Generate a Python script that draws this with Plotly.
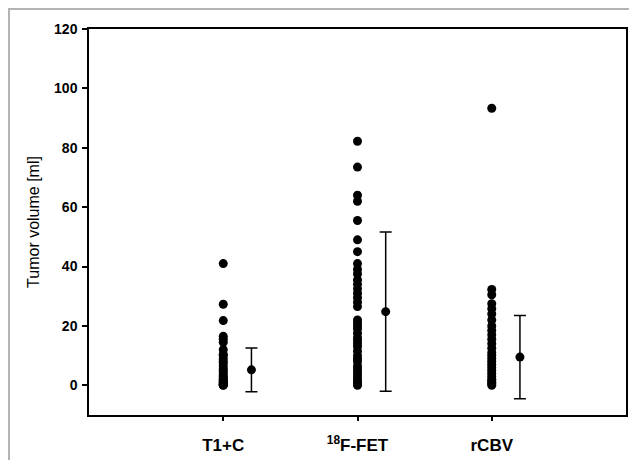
import plotly.graph_objects as go

categories = ["T1+C", "<sup>18</sup>F-FET", "rCBV"]
cat_pos = [1, 2, 3]

t1c_vals = [41.0, 27.3, 21.8, 16.5, 15.5, 14.5, 12.0, 10.5, 10.0, 9.0, 8.0, 7.5,
            6.5, 5.5, 5.0, 4.2, 3.5, 3.0, 2.5, 2.0, 1.8, 1.5, 1.2, 1.0, 0.8,
            0.5, 0.3, 0.2, 0.1, 0.0]
fet_vals = [82.2, 73.5, 64.0, 62.0, 55.5, 49.0, 45.0, 41.0, 39.0, 37.5, 35.5,
            34.0, 32.5, 31.0, 29.5, 28.0, 26.5, 22.0, 21.0, 20.0, 19.0, 17.5,
            16.0, 15.0, 14.0, 13.0, 11.5, 10.0, 9.0, 8.0, 6.5, 5.5, 4.5, 3.5,
            2.5, 1.5, 1.0, 0.5, 0.0]
rcbv_vals = [93.3, 32.3, 30.5, 27.5, 25.8, 24.0, 22.0, 20.0, 18.5, 17.0, 15.5,
             14.0, 12.5, 11.0, 10.0, 9.0, 8.0, 7.0, 6.0, 5.0, 4.0, 3.0, 2.0,
             1.5, 1.0, 0.5, 0.0]

means = [5.2, 24.8, 9.5]
sds = [7.4, 26.8, 14.0]
mean_offset = 0.21

fig = go.Figure()
for pos, vals in zip(cat_pos, [t1c_vals, fet_vals, rcbv_vals]):
    fig.add_trace(go.Scatter(
        x=[pos] * len(vals), y=vals, mode="markers",
        marker=dict(color="black", size=9),
        showlegend=False, hoverinfo="y"))

fig.add_trace(go.Scatter(
    x=[p + mean_offset for p in cat_pos], y=means, mode="markers",
    marker=dict(color="black", size=9),
    error_y=dict(type="data", array=sds, visible=True, color="black",
                 thickness=1.5, width=6),
    showlegend=False))

# figure sits inside the page's 8px body margin; keep it from overflowing
W, H = 621, 452
ml, mr, mt, mb = 81, 3, 21, 45
pw, ph = W - ml - mr, H - mt - mb
fig.add_shape(type="rect", xref="paper", yref="paper",
              x0=(1 - ml) / pw, x1=(W + 5 - ml) / pw,
              y0=(H - mb - (H + 5)) / ph, y1=1 + (mt - 1) / ph,
              line=dict(color="#b4b4b4", width=2), layer="below")

fig.update_layout(
    width=W, height=H,
    margin=dict(l=ml, r=mr, t=mt, b=mb, autoexpand=False),
    paper_bgcolor="white", plot_bgcolor="white",
    font=dict(family="Liberation Sans, Arial, sans-serif", color="black"),
)
fig.update_xaxes(
    range=[0, 4], tickvals=cat_pos, ticktext=[f"<b>{c}</b>" for c in categories],
    showgrid=False, zeroline=False, showline=True, linecolor="black",
    linewidth=1.5, mirror=True, ticks="outside", ticklen=4, tickwidth=1.5,
    tickcolor="black", tickfont=dict(size=17), ticklabelstandoff=10,
    automargin=False)
fig.update_yaxes(
    range=[-10, 120], tickvals=[0, 20, 40, 60, 80, 100, 120],
    ticktext=[f"<b>{v}</b>" for v in [0, 20, 40, 60, 80, 100, 120]],
    showgrid=False, zeroline=False, showline=True, linecolor="black",
    linewidth=1.5, mirror=True, ticks="outside", ticklen=5, tickwidth=1.5,
    tickcolor="black", tickfont=dict(size=14), ticklabelstandoff=2,
    automargin=False,
    title=dict(text="Tumor volume [ml]", font=dict(size=16, color="black"),
               standoff=10))

fig.write_html("out.html")
